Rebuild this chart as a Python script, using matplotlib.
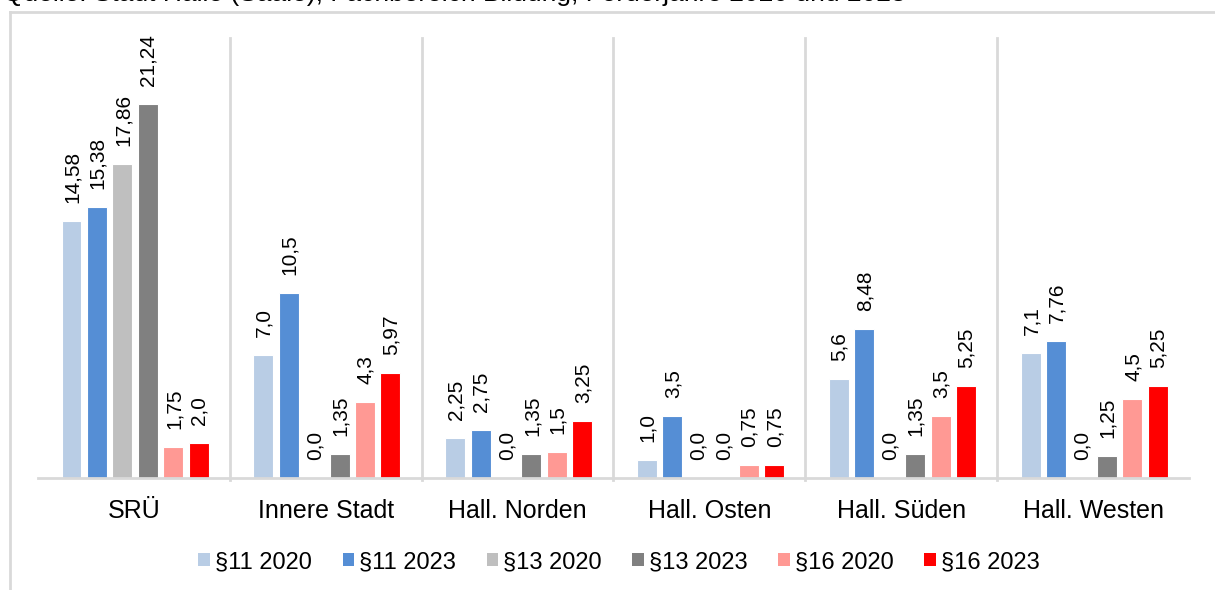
import matplotlib
matplotlib.use("Agg")
import matplotlib.pyplot as plt
from matplotlib.patches import Patch
from matplotlib.lines import Line2D
import numpy as np

plt.rcParams['font.family'] = ['Liberation Sans', 'DejaVu Sans']

categories = ["SRÜ", "Innere Stadt", "Hall. Norden", "Hall. Osten", "Hall. Süden", "Hall. Westen"]
series_names = ["§11 2020", "§11 2023", "§13 2020", "§13 2023", "§16 2020", "§16 2023"]
s11_2020 = [14.58, 7.0, 2.25, 1.0, 5.6, 7.1]
s11_2023 = [15.38, 10.5, 2.75, 3.5, 8.48, 7.76]
s13_2020 = [17.86, 0.0, 0.0, 0.0, 0.0, 0.0]
s13_2023 = [21.24, 1.35, 1.35, 0.0, 1.35, 1.25]
s16_2020 = [1.75, 4.3, 1.5, 0.75, 3.5, 4.5]
s16_2023 = [2.0, 5.97, 3.25, 0.75, 5.25, 5.25]
series = [s11_2020, s11_2023, s13_2020, s13_2023, s16_2020, s16_2023]
colors = ["#b9cde5", "#558ed5", "#bfbfbf", "#808080", "#ff9994", "#ff0000"]
source = "Quelle: Stadt Halle (Saale), Fachbereich Bildung, Förderjahre 2020 und 2023"

W, H = 1215, 590
fig = plt.figure(figsize=(W / 100, H / 100), dpi=100)
ax = fig.add_axes([38 / W, (H - 478) / H, 1151 / W, 440 / H])

x = np.arange(len(categories))
pitch = 0.1325
bw = 0.104
for i, (vals, col) in enumerate(zip(series, colors)):
    xs = x + (i - 2.5) * pitch + 0.006
    ax.bar(xs, vals, width=bw, color=col, edgecolor="white", linewidth=0.8, zorder=3)
    for xi, v in zip(xs, vals):
        ax.annotate(str(v).replace(".", ","), (xi, v), xytext=(0.5, 13),
                    textcoords="offset points", rotation=90, ha="center",
                    va="bottom", fontsize=15, color="#000000", zorder=4)

ax.set_xlim(-0.5, len(categories) - 0.5)
ax.set_ylim(0, 25)
for b in np.arange(0.5, len(categories) - 0.5, 1.0):
    ax.axvline(b, color="#d9d9d9", lw=2, zorder=1, clip_on=False, ymin=-0.005, ymax=1)
for s in ["top", "right", "left"]:
    ax.spines[s].set_visible(False)
ax.spines["bottom"].set_color("#d9d9d9")
ax.spines["bottom"].set_linewidth(2)
ax.spines["bottom"].set_zorder(5)
ax.set_yticks([])
ax.set_xticks(x)
ax.set_xticklabels(categories, fontsize=18)
ax.tick_params(axis="x", length=0, pad=15)

handles = [Patch(facecolor=c, edgecolor="none", label=n) for c, n in zip(colors, series_names)]
fig.legend(handles=handles, loc="center", bbox_to_anchor=(619 / W, (H - 562) / H),
           ncol=6, frameon=False, fontsize=17, handlelength=0.5, handleheight=0.5,
           handletextpad=0.2, columnspacing=1.3, borderaxespad=0)

fig.text(3 / W, (H - 1) / H, source, fontsize=19, ha="left", va="baseline", color="#000000")

fig.add_artist(Line2D([10 / W, 1], [(H - 12) / H, (H - 12) / H], color="#d9d9d9", lw=2,
                      transform=fig.transFigure))
fig.add_artist(Line2D([10 / W, 10 / W], [0, (H - 12) / H], color="#d9d9d9", lw=2,
                      transform=fig.transFigure))

fig.savefig("out.png", dpi=100)
